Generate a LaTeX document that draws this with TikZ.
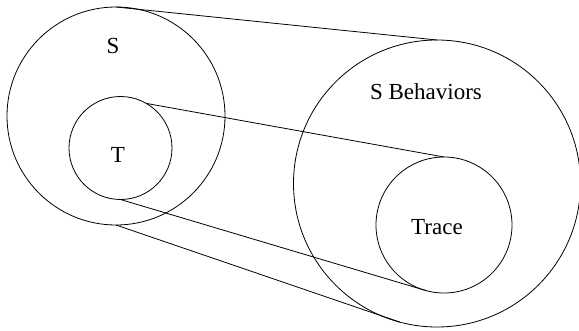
\documentclass[tikz,border=0pt]{standalone}
\usepackage{fontspec}
\setmainfont{Liberation Serif}
\begin{document}
\begin{tikzpicture}[x=1pt,y=-1pt,
  ring/.style={draw, circle, inner sep=0pt, outer sep=0pt, line width=0.8pt},
  lbl/.style={font=\fontsize{23}{27}\selectfont, inner sep=0pt},
  link/.style={line width=0.8pt}]
\useasboundingbox (0,0) rectangle (579,330);
\node[ring, minimum size=218pt] (S) at (116,116) {};
\node[ring, minimum size=103pt] (T) at (120.5,148) {};
\node[ring, minimum size=287pt] (B) at (437,183.5) {};
\node[ring, minimum size=136pt] (R) at (444,225) {};
\node[lbl] (Sl) at (113,46) {S};
\node[lbl] (Tl) at (118,155) {T};
\node[lbl] (Bl) at (426,92) {S Behaviors};
\node[lbl] (Rl) at (437,227) {Trace};
\draw[link] (S.north) -- (B.north);
\draw[link] (S.south) -- (B.255);
\draw[link] (T.60) -- (R.north);
\draw[link] (T.south) -- (R.255);
\end{tikzpicture}
\end{document}
